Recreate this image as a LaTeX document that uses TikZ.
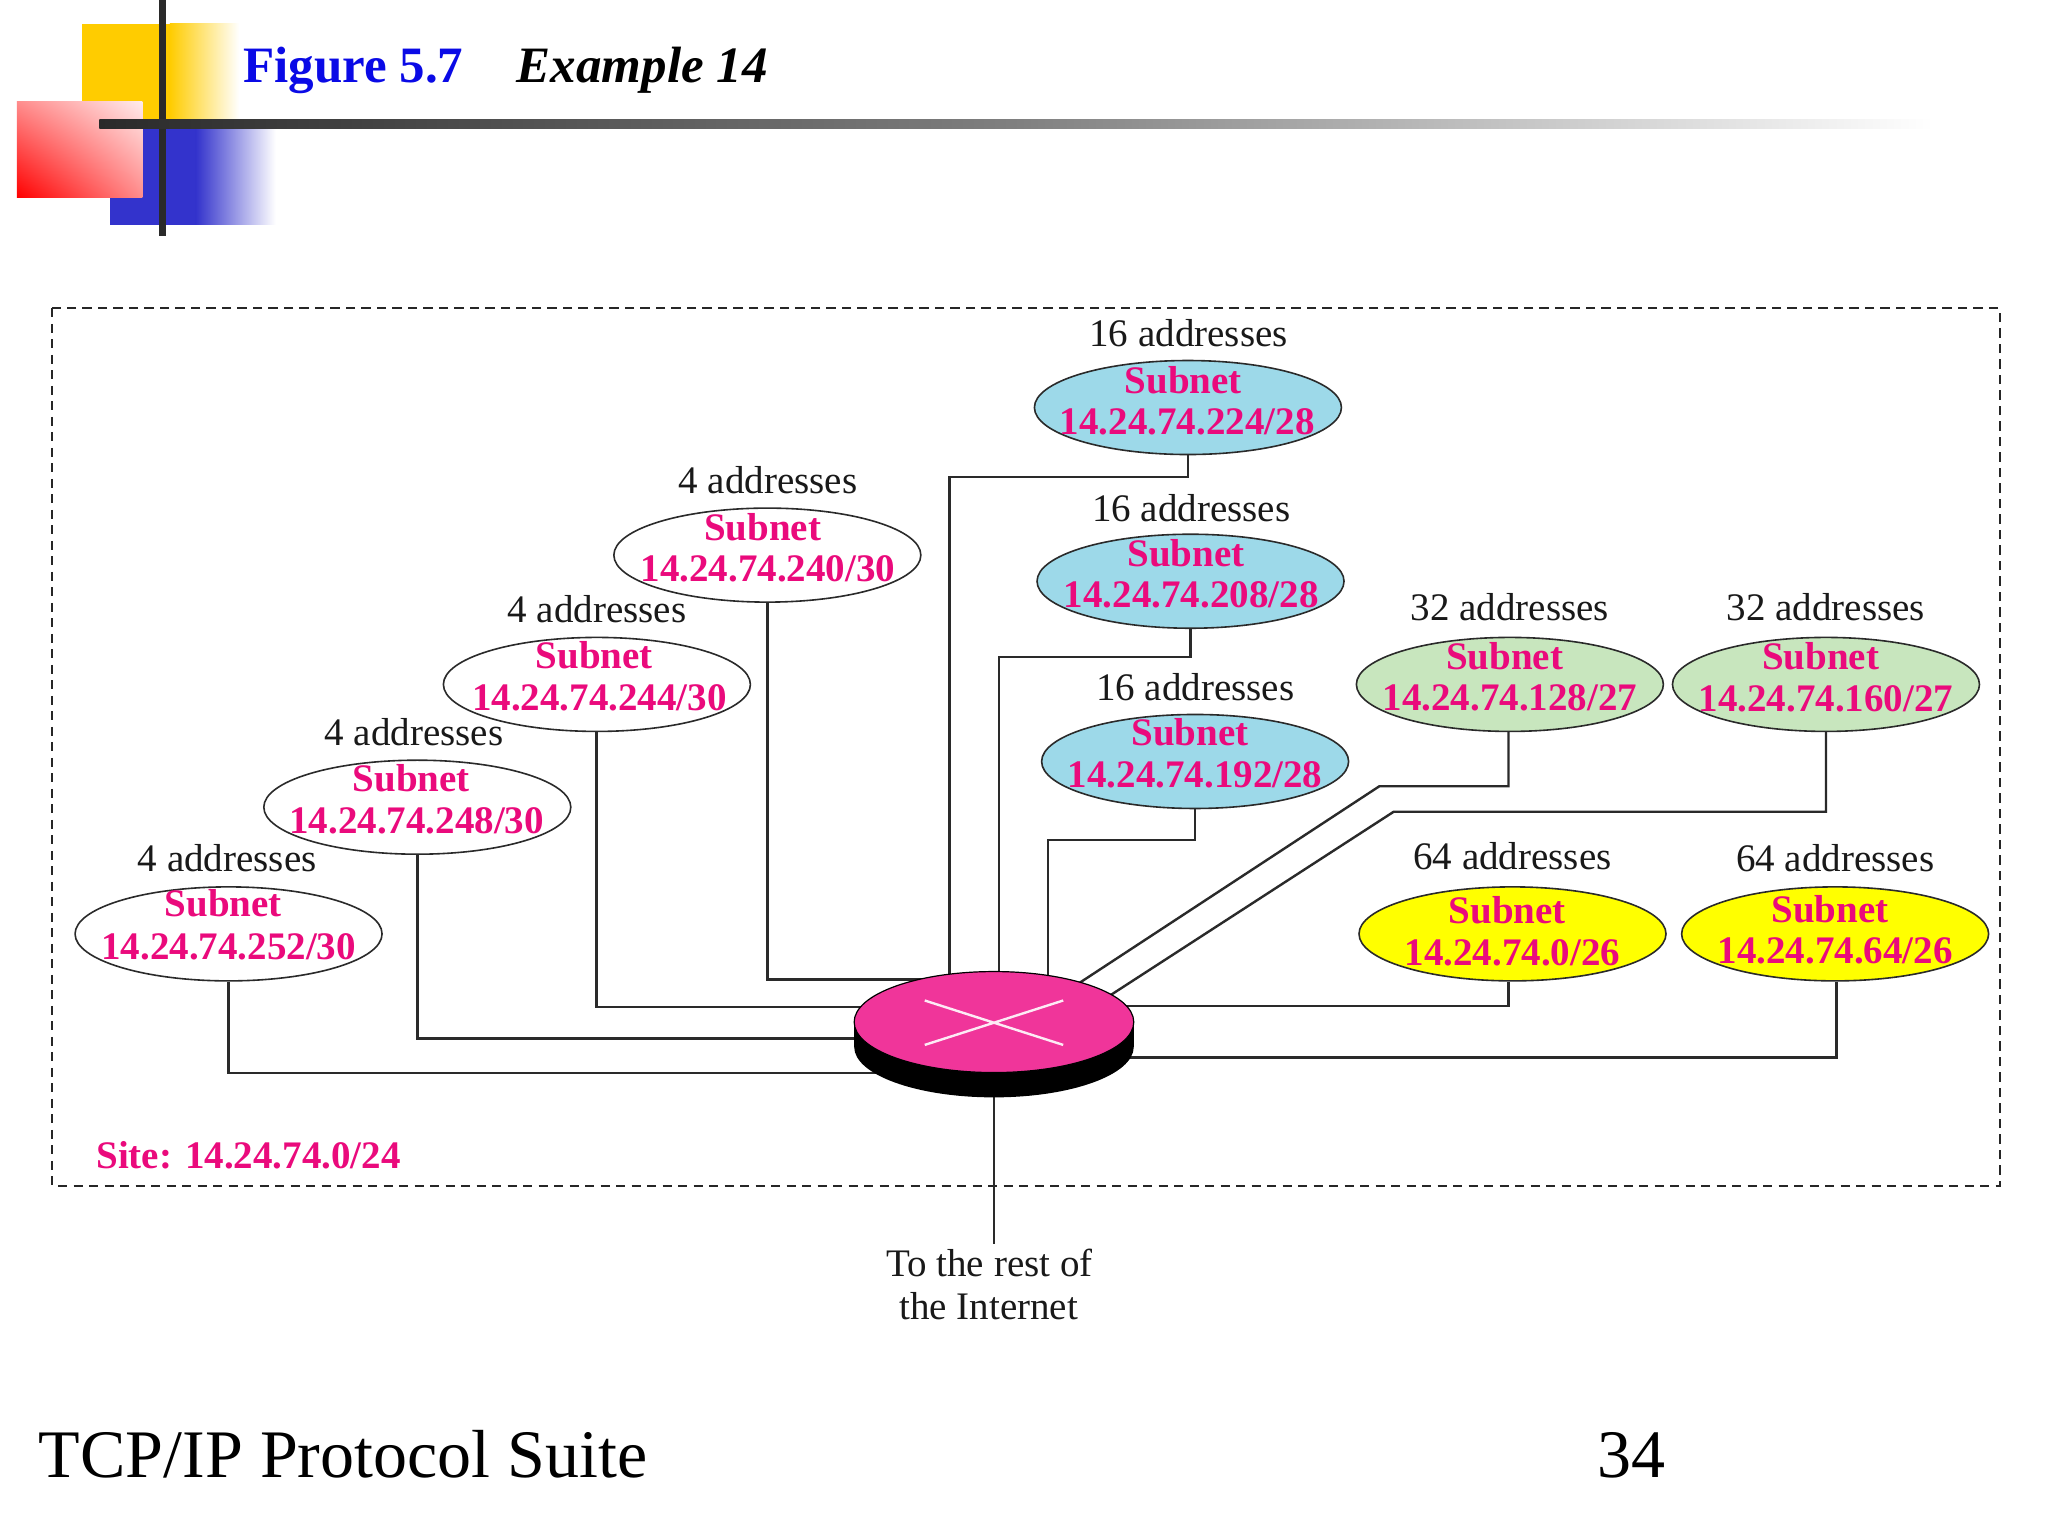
\documentclass[tikz,border=0pt]{standalone}
\usepackage{fontspec}
\setmainfont{Liberation Serif}
\usetikzlibrary{backgrounds,shapes.geometric,shadings}
\definecolor{mag}{HTML}{EA0A7C}
\definecolor{routerpink}{HTML}{F0359A}
\definecolor{sky}{HTML}{9DD9E9}
\definecolor{leaf}{HTML}{C8E6BE}
\definecolor{yel}{HTML}{FFFF00}
\definecolor{inkline}{HTML}{2A2A2A}
\definecolor{golden}{HTML}{FFCC00}
\definecolor{royal}{HTML}{3333CC}
\definecolor{titleblue}{HTML}{0A0AE6}
\tikzset{
  x=0.65306pt,y=-0.65306pt,
  subnetoval/.style={ellipse,draw=inkline,line width=0.8pt,minimum width=153.5pt,minimum height=47pt,inner sep=0pt},
  addrlabel/.style={anchor=base,yshift=-6.5pt,font=\fontsize{19.5}{22}\selectfont,text=black!90,inner sep=0pt},
  subnetlabel/.style={anchor=base,yshift=-6.5pt,font=\fontsize{19.5}{22}\bfseries\selectfont,text=mag,inner sep=0pt},
  conn/.style={draw=inkline,line width=1.2pt,line join=miter},
}
\begin{document}
\begin{tikzpicture}
\useasboundingbox (0,0) rectangle (1568,1176);

% --- router
\node[ellipse,fill=black,minimum width=139.8pt,minimum height=50.5pt,inner sep=0pt] (routerbase) at (761,801.5) {};
\fill[black] (654,782.5) rectangle (868,801.5);
\node[ellipse,fill=routerpink,draw=black,line width=0.6pt,minimum width=139.8pt,minimum height=50.5pt,inner sep=0pt] (router) at (761,782.5) {};
\draw[white!90!routerpink,line width=1.2pt] (708,766) -- (814,800) (814,766) -- (708,800);

% --- ovals
\node[subnetoval,fill=sky] (e224) at (909.5,312) {};
\node[subnetoval,fill=sky] (e208) at (911.5,445) {};
\node[subnetoval,fill=sky] (e192) at (915,583) {};
\node[subnetoval,fill=white] (e240) at (587.5,425) {};
\node[subnetoval,fill=white] (e244) at (457,524) {};
\node[subnetoval,fill=white] (e248) at (319.5,618) {};
\node[subnetoval,fill=white] (e252) at (175,715) {};
\node[subnetoval,fill=leaf] (e128) at (1156,524) {};
\node[subnetoval,fill=leaf] (e160) at (1398,524) {};
\node[subnetoval,fill=yel] (e0) at (1158,715) {};
\node[subnetoval,fill=yel] (e64) at (1405,715) {};

% --- labels
\node[addrlabel] (l224) at (910,255) {16 addresses};
\node[subnetlabel] (s224) at (906,291) {Subnet};
\node[subnetlabel] (a224) at (909,322.5) {14.24.74.224/28};
\node[addrlabel] (l208) at (912,389) {16 addresses};
\node[subnetlabel] (s208) at (908,424) {Subnet};
\node[subnetlabel] (a208) at (912,455) {14.24.74.208/28};
\node[addrlabel] (l192) at (915,526) {16 addresses};
\node[subnetlabel] (s192) at (911,561) {Subnet};
\node[subnetlabel] (a192) at (915,593) {14.24.74.192/28};
\node[addrlabel] (l240) at (588,368) {4 addresses};
\node[subnetlabel] (s240) at (584,404) {Subnet};
\node[subnetlabel] (a240) at (588,435) {14.24.74.240/30};
\node[addrlabel] (l244) at (457,467) {4 addresses};
\node[subnetlabel] (s244) at (455,501.5) {Subnet};
\node[subnetlabel] (a244) at (459,534) {14.24.74.244/30};
\node[addrlabel] (l248) at (317,561) {4 addresses};
\node[subnetlabel] (s248) at (315,596) {Subnet};
\node[subnetlabel] (a248) at (319,628) {14.24.74.248/30};
\node[addrlabel] (l252) at (174,657) {4 addresses};
\node[subnetlabel] (s252) at (171,692) {Subnet};
\node[subnetlabel] (a252) at (175,725) {14.24.74.252/30};
\node[addrlabel] (l128) at (1156,465) {32 addresses};
\node[subnetlabel] (s128) at (1152,502.5) {Subnet};
\node[subnetlabel] (a128) at (1156,534) {14.24.74.128/27};
\node[addrlabel] (l160) at (1398,465) {32 addresses};
\node[subnetlabel] (s160) at (1394,502.5) {Subnet};
\node[subnetlabel] (a160) at (1398,535) {14.24.74.160/27};
\node[addrlabel] (l0) at (1158,656) {64 addresses};
\node[subnetlabel] (s0) at (1154,697) {Subnet};
\node[subnetlabel] (a0) at (1158,729) {14.24.74.0/26};
\node[addrlabel] (l64) at (1405,657) {64 addresses};
\node[subnetlabel] (s64) at (1401,696) {Subnet};
\node[subnetlabel] (a64) at (1405,728) {14.24.74.64/26};

\node[subnetlabel,anchor=base west] (site) at (73.5,885) {Site: 14.24.74.0/24};
\node[addrlabel] (rest1) at (757.5,967) {To the rest of};
\node[addrlabel] (rest2) at (757,1000) {the Internet};

% --- title and footer
\node[anchor=base west,inner sep=0pt,font=\fontsize{25.5}{28}\bfseries\selectfont,text=titleblue] (title1) at (186,63) {Figure 5.7};
\node[anchor=base west,inner sep=0pt,font=\fontsize{25.5}{28}\bfseries\itshape\selectfont,text=black] (title2) at (395.5,63) {Example 14};
\node[anchor=base west,inner sep=0pt,font=\fontsize{34}{38}\selectfont,text=black] (foot1) at (29.5,1131) {TCP/IP Protocol Suite};
\node[anchor=base west,inner sep=0pt,font=\fontsize{34}{38}\selectfont,text=black] (foot2) at (1223,1131) {34};

% --- named bends
\coordinate (b224) at (727,365);
\coordinate (b208) at (765,503);
\coordinate (b192) at (802.5,643);
\coordinate (j240) at (761,750);
\coordinate (j244) at (761,771);
\coordinate (j248) at (761,795);
\coordinate (j252) at (761,821.5);
\coordinate (j0) at (761,770);
\coordinate (j64) at (761,809.5);
\coordinate (b128) at (1056,602);
\coordinate (b160) at (1067,621.5);
\coordinate (j128) at (812,762);
\coordinate (j160) at (830,775);
\coordinate (netend) at (761,952.5);

\begin{pgfonlayer}{background}
  \fill[white] (0,0) rectangle (1568,1176);
  % decoration
  \fill[golden] (63,18) rectangle (130,95);
  \shade[left color=golden,right color=white] (130,18) rectangle (183,95);
  \fill[royal] (84,95) rectangle (150,172);
  \shade[left color=royal,right color=white] (150,95) rectangle (211,172);
  \shade[lower left=red,upper right=white!92!red,upper left=red!45!white,lower right=red!45!white] (13,78) rectangle (109,151);
  \draw[inkline,line width=3.4pt] (124.5,0) -- (124.5,181);
  \shade[left color=inkline,right color=white,middle color=black!50] (76,91.8) rectangle (1480,98.2);
  % site frame
  \draw[black!85,line width=1.1pt,dash pattern=on 4.6pt off 3.15pt] (40,236) rectangle (1531,908);
  % connectors
  \draw[conn] (e224.south) |- (b224) -- (b224 |- router.center);
  \draw[conn] (e208.south) |- (b208) -- (b208 |- router.center);
  \draw[conn] (e192.south) |- (b192) -- (b192 |- router.center);
  \draw[conn] (e240.south) |- (j240);
  \draw[conn] ([xshift=-0.3pt]e244.south) |- (j244);
  \draw[conn] (e248.south) |- (j248);
  \draw[conn] (e252.south) |- (j252);
  \draw[conn] ([xshift=-2pt]e0.south) |- (j0);
  \draw[conn] ([xshift=0.7pt]e64.south) |- (j64);
  \draw[conn] ([xshift=-0.7pt]e128.south) |- (b128) -- (j128);
  \draw[conn] (e160.south) |- (b160) -- (j160);
  \draw[conn] (router.center) -- (netend);
\end{pgfonlayer}
\end{tikzpicture}
\end{document}
